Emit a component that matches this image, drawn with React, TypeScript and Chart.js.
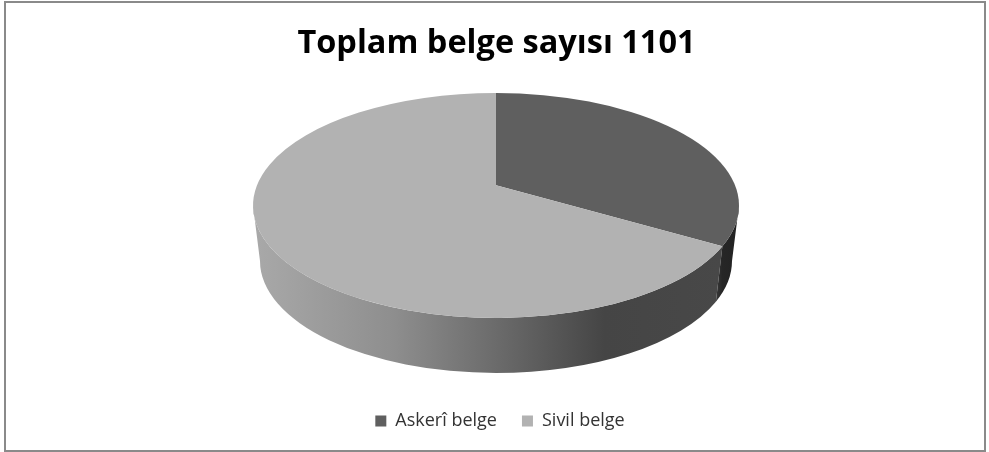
import React, { useEffect, useRef } from "react";
import { Chart, registerables } from "chart.js";

Chart.register(...registerables);

const categories = ["Askerî belge", "Sivil belge"];
const values = [369, 732];
const sliceColors = ["#5f5f5f", "#b2b2b2"];
const titleText = "Toplam belge sayısı 1101";

// Projection of the 3D pie on the page
const CX = 496, CY = 205.5, RX = 243, RY = 112.5, VERTEX_OFFSET = 0.18;
const BOTTOM_CX = 496, BOTTOM_CY = 261, BOTTOM_RX = 236, BOTTOM_RY = 112;

// chart.js angle (0 = right, clockwise) -> ellipse parameter, with perspective on the centre
function ellipseParam(angle: number): number {
  const u = Math.cos(angle);
  const v = Math.sin(angle);
  const d = VERTEX_OFFSET;
  const denom = 1 - d * v;
  return Math.atan2((v - d) / denom, (u * Math.sqrt(1 - d * d)) / denom);
}

const pie3d = {
  id: "pie3d",
  afterLayout(chart: any) {
    chart.legend.left += 5.5;
    chart.legend.right += 5.5;
    chart.titleBlock.left += 2;
    chart.titleBlock.right += 2;
  },
  beforeDraw(chart: any) {
    const { ctx } = chart;
    ctx.save();
    ctx.fillStyle = "#ffffff";
    ctx.fillRect(0, 0, chart.width, chart.height);
    ctx.strokeStyle = "#8a8a8a";
    ctx.lineWidth = 2;
    ctx.strokeRect(5, 2, 980, 449);
    ctx.restore();
  },
  beforeDatasetsDraw(chart: any) {
    const { ctx } = chart;
    const arcs = chart.getDatasetMeta(0).data;
    const boundary = ellipseParam(arcs[0].endAngle);

    ctx.save();
    // side wall of the grey slice: from the boundary round the front to the left edge
    const wall = ctx.createLinearGradient(253, 0, 722, 0);
    wall.addColorStop(0, "#a9a9a9");
    wall.addColorStop(0.3, "#8e8e8e");
    wall.addColorStop(0.55, "#666666");
    wall.addColorStop(0.75, "#454545");
    wall.addColorStop(1, "#484848");
    ctx.fillStyle = wall;
    ctx.beginPath();
    ctx.ellipse(CX, CY, RX, RY, 0, boundary, Math.PI);
    ctx.ellipse(BOTTOM_CX, BOTTOM_CY, BOTTOM_RX, BOTTOM_RY, 0, Math.PI, boundary, true);
    ctx.closePath();
    ctx.fill();

    // side wall of the dark slice
    const wall2 = ctx.createLinearGradient(715, 0, 739, 0);
    wall2.addColorStop(0, "#3c3c3c");
    wall2.addColorStop(0.3, "#262626");
    wall2.addColorStop(1, "#222222");
    ctx.fillStyle = wall2;
    ctx.beginPath();
    ctx.ellipse(CX, CY, RX, RY, 0, 0, boundary);
    ctx.ellipse(BOTTOM_CX, BOTTOM_CY, BOTTOM_RX, BOTTOM_RY, 0, boundary, 0, true);
    ctx.closePath();
    ctx.fill();

    // top faces
    const vy = CY - VERTEX_OFFSET * RY;
    arcs.forEach((arc: any, i: number) => {
      ctx.fillStyle = sliceColors[i];
      ctx.beginPath();
      ctx.moveTo(CX, vy);
      ctx.ellipse(CX, CY, RX, RY, 0, ellipseParam(arc.startAngle), ellipseParam(arc.endAngle));
      ctx.closePath();
      ctx.fill();
    });
    ctx.restore();
    return false;
  },
};

export default function App() {
  const ref = useRef<HTMLCanvasElement>(null);
  useEffect(() => {
    document.body.style.margin = "0";
    const chart = new Chart(ref.current!, {
      type: "pie",
      data: {
        labels: categories,
        datasets: [{ data: values, backgroundColor: sliceColors, borderWidth: 0 }],
      },
      options: {
        responsive: false,
        animation: false,
        devicePixelRatio: 1,
        layout: { padding: { bottom: 12 } },
        plugins: {
          tooltip: { enabled: false },
          title: {
            display: true,
            text: titleText,
            color: "#000000",
            font: { family: "Open Sans", size: 32.5, weight: "bold" },
            padding: { top: 24, bottom: 8 },
          },
          legend: {
            position: "bottom",
            labels: {
              boxWidth: 11,
              boxHeight: 11,
              padding: 25,
              color: "#333333",
              font: { family: "Open Sans", size: 18 },
            },
          },
        },
      },
      plugins: [pie3d],
    } as any);
    return () => chart.destroy();
  }, []);
  return <canvas ref={ref} width={989} height={452} style={{ display: "block" }} />;
}
